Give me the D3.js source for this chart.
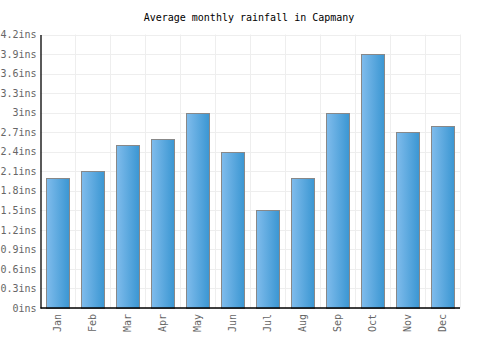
<!DOCTYPE html>
<html><head><meta charset="utf-8">
<script src="https://cdn.jsdelivr.net/npm/d3@7"></script>
<style>body{margin:0;background:#fff}svg{display:block}</style>
</head><body>
<script>
const months = ["Jan","Feb","Mar","Apr","May","Jun","Jul","Aug","Sep","Oct","Nov","Dec"];
const rainfall = [2.0,2.1,2.5,2.6,3.0,2.4,1.5,2.0,3.0,3.9,2.7,2.8];
const yTicks = [0,0.3,0.6,0.9,1.2,1.5,1.8,2.1,2.4,2.7,3,3.3,3.6,3.9,4.2];
const title = "Average monthly rainfall in Capmany";

const W=500,H=350, m={l:40.5,r:40,t:34.5,b:42};
const svg=d3.select("body").append("svg").attr("width",W).attr("height",H);
const font="'DejaVu Sans Mono', monospace";
const defs=svg.append("defs");
const g=defs.append("linearGradient").attr("id","bg").attr("x1","0").attr("x2","1").attr("y1","0").attr("y2","0");
g.append("stop").attr("offset","0").attr("stop-color","#80bcec");
g.append("stop").attr("offset","1").attr("stop-color","#3a96d2");

const x=d3.scaleBand().domain(months).range([m.l,W-m.r]).paddingInner(0.34).paddingOuter(0.17);
const xb=d3.scaleBand().domain(months).range([m.l,W-m.r]);
const y=d3.scaleLinear().domain([0,4.2]).range([H-m.b,m.t]);

// grid
svg.append("g").selectAll("line").data(yTicks).join("line")
 .attr("x1",m.l).attr("x2",W-m.r).attr("y1",d=>Math.round(y(d))+0.5).attr("y2",d=>Math.round(y(d))+0.5)
 .attr("stroke","#eeeeee");
svg.append("g").selectAll("line").data(months.slice(1).concat(["end"])).join("line")
 .attr("x1",(d,i)=>Math.round(m.l+xb.bandwidth()*(i+1))+0.5).attr("x2",(d,i)=>Math.round(m.l+xb.bandwidth()*(i+1))+0.5)
 .attr("y1",m.t).attr("y2",H-m.b).attr("stroke","#eeeeee");

// bars
svg.append("g").selectAll("rect").data(rainfall).join("rect")
 .attr("x",(d,i)=>Math.round(x(months[i]))+0.5).attr("width",Math.round(x.bandwidth()))
 .attr("y",d=>Math.round(y(d))+0.5).attr("height",d=>Math.round(y(0))-Math.round(y(d)))
 .attr("fill","url(#bg)").attr("stroke","#888").attr("stroke-width",1);

// axes
const ya=svg.append("g").attr("transform",`translate(${m.l},0)`)
 .call(d3.axisLeft(y).tickValues(yTicks).tickSize(0).tickPadding(4).tickFormat(d=>d3.format("~g")(d)+"ins"));
ya.select(".domain").attr("stroke","#000").attr("stroke-width",1.3);
ya.selectAll("text").attr("font-family",font).attr("font-size",10).attr("fill","#666");

const xa=svg.append("g").attr("transform",`translate(0,${H-m.b})`)
 .call(d3.axisBottom(x).tickSize(0).tickPadding(0));
xa.select(".domain").attr("stroke","#000").attr("stroke-width",1.3).attr("d",`M${m.l},0H${W-m.r}`);
xa.selectAll("text").attr("font-family",font).attr("font-size",10).attr("fill","#666")
 .attr("transform","rotate(-90)").attr("text-anchor","end").attr("x",-6).attr("y",0).attr("dy","0.35em");

svg.append("text").attr("x",249).attr("y",21).attr("text-anchor","middle")
 .attr("font-family",font).attr("font-size",10).attr("fill","#000").text(title);
</script>
</body></html>
